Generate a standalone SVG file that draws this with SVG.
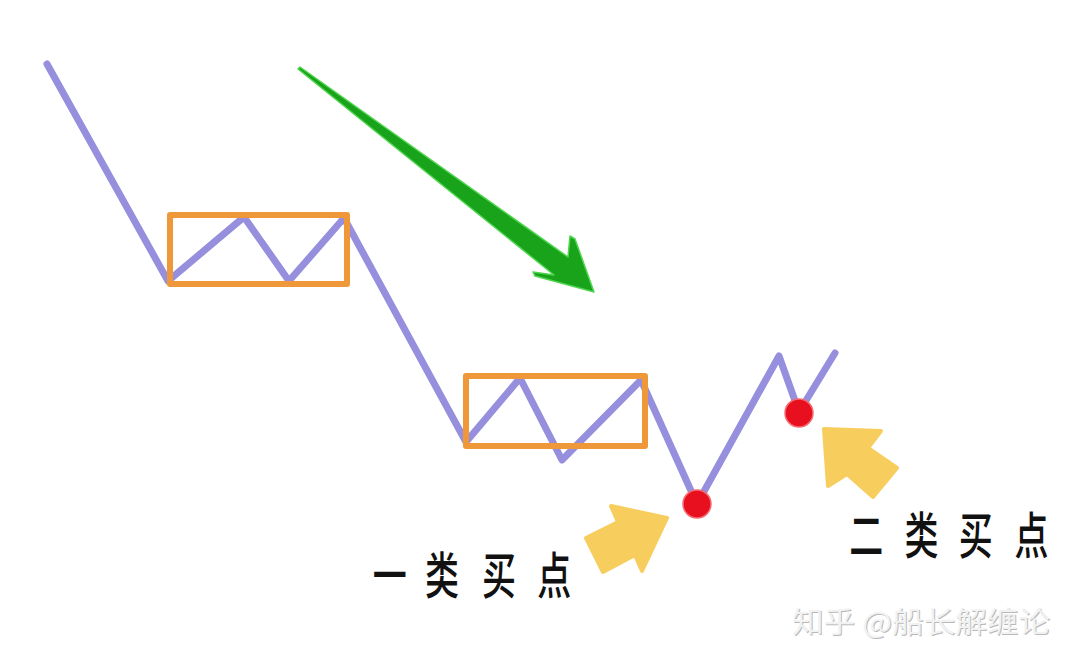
<svg xmlns="http://www.w3.org/2000/svg" width="1080" height="667" viewBox="0 0 1080 667">
  <style>
    .price { fill: none; stroke: #958fdd; stroke-width: 7; stroke-linejoin: round; stroke-linecap: round; }
    .box { fill: none; stroke: #ee983a; stroke-width: 6; stroke-linejoin: round; }
    .dot { fill: #e80f1e; stroke: #f36a6f; stroke-width: 1.5; }
    .yarrow { fill: #f7cd5d; stroke: #f7cd5d; stroke-width: 4; stroke-linejoin: round; }
    .label { font-family: "Noto Sans CJK SC", "Noto Sans", sans-serif; font-size: 50px; font-weight: 500; fill: #111111; }
    .wm { font-family: "Noto Sans CJK SC", "Liberation Sans", sans-serif; font-size: 29px; }
  </style>
  <rect width="1080" height="667" fill="#ffffff"/>

  <g id="connectors">
    <polyline class="price" points="47,64 168,281 244,217 289,281 344,218 466,442 520,378 562,460 641,380 697,504 779,356 799,412 835,353"/>
  </g>

  <g id="zone1">
    <rect class="box" x="170" y="215" width="177" height="69"/>
  </g>
  <g id="zone2">
    <rect class="box" x="466" y="376" width="179" height="70"/>
  </g>

  <g id="trend-arrow">
    <polygon points="300,67 568,257 570,236 575,239 594,292 535,276 533,272 554,275 298,69" fill="#18a31a" stroke="#4fd64f" stroke-width="1.5" stroke-linejoin="round"/>
  </g>

  <g id="buy1-dot">
    <circle class="dot" cx="697" cy="504" r="14"/>
  </g>
  <g id="buy2-dot">
    <circle class="dot" cx="799" cy="413" r="14"/>
  </g>

  <g id="buy1-arrow">
    <polygon class="yarrow" points="611,506 667,518 642,571 635,555 603,572 586,538 618,522"/>
  </g>
  <g id="buy2-arrow">
    <polygon class="yarrow" points="824,429 881,431 868,448 897,468 873,497 847,474 828,486"/>
  </g>

  <g id="buy1-label">
    <text class="label" transform="translate(0,594) scale(0.68,1)"><tspan x="548">一</tspan><tspan x="625">类</tspan><tspan x="709">买</tspan><tspan x="790">点</tspan></text>
  </g>
  <g id="buy2-label">
    <text class="label" transform="translate(0,554) scale(0.68,1)"><tspan x="1249">二</tspan><tspan x="1330">类</tspan><tspan x="1410">买</tspan><tspan x="1492">点</tspan></text>
  </g>

  <g id="watermark">
    <text class="wm" x="793" y="634" fill="#b9b9b9" textLength="258" lengthAdjust="spacingAndGlyphs">知乎 @船长解缠论</text>
    <text class="wm" x="792" y="633" fill="#f2f2f2" textLength="258" lengthAdjust="spacingAndGlyphs">知乎 @船长解缠论</text>
  </g>
</svg>
